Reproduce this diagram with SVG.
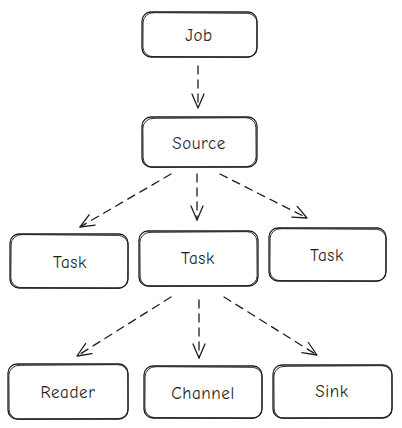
<svg xmlns="http://www.w3.org/2000/svg" width="402" height="428" viewBox="0 0 402 428">
<style>
.box{fill:none;stroke:#1e1e1e;stroke-width:1.3;stroke-linecap:round}
.box2{fill:none;stroke:#1e1e1e;stroke-width:0.9;stroke-linecap:round}
.lbl{font-family:"Comic Neue","Liberation Sans",sans-serif;font-size:17px;fill:#1e1e1e;text-anchor:middle;dominant-baseline:central;letter-spacing:0.6px}
.edge{fill:none;stroke:#1e1e1e;stroke-width:1.3;stroke-dasharray:8 6;stroke-linecap:round}
</style>
<defs>
<marker id="ah" viewBox="0 0 16 16" refX="15" refY="8" markerWidth="16" markerHeight="16" markerUnits="userSpaceOnUse" orient="auto">
<path d="M1 2 L15 8 L1 14" fill="none" stroke="#1e1e1e" stroke-width="1.3" stroke-linecap="round" stroke-linejoin="round"/>
</marker>
</defs>
<g id="connectors">
<path class="edge" d="M198 66 L198 108" marker-end="url(#ah)"/>
<path class="edge" d="M171 174 L80 227" marker-end="url(#ah)"/>
<path class="edge" d="M197 174 L197 220" marker-end="url(#ah)"/>
<path class="edge" d="M220 174 L307 218" marker-end="url(#ah)"/>
<path class="edge" d="M171 297 L77 356" marker-end="url(#ah)"/>
<path class="edge" d="M199 300 L199 358" marker-end="url(#ah)"/>
<path class="edge" d="M224 297 L317 355" marker-end="url(#ah)"/>
</g>
<g id="job">
<rect class="box" x="142" y="12" width="115" height="45" rx="9"/>
<rect class="box2" x="143" y="13" width="114" height="44" rx="10" transform="rotate(0.4 200 35)"/>
<text class="lbl" x="199" y="35">Job</text>
</g>
<g id="source">
<rect class="box" x="142" y="117" width="115" height="50" rx="9"/>
<rect class="box2" x="143" y="118" width="113" height="49" rx="10" transform="rotate(-0.4 200 142)"/>
<text class="lbl" x="199" y="143">Source</text>
</g>
<g id="task1">
<rect class="box" x="10" y="234" width="118" height="54" rx="9"/>
<rect class="box2" x="11" y="235" width="117" height="53" rx="10" transform="rotate(0.5 69 261)"/>
<text class="lbl" x="70" y="262">Task</text>
</g>
<g id="task2">
<rect class="box" x="139" y="231" width="119" height="55" rx="9"/>
<rect class="box2" x="140" y="232" width="117" height="54" rx="10" transform="rotate(-0.4 198 258)"/>
<text class="lbl" x="198" y="258">Task</text>
</g>
<g id="task3">
<rect class="box" x="269" y="228" width="117" height="53" rx="9"/>
<rect class="box2" x="270" y="229" width="116" height="52" rx="10" transform="rotate(0.4 327 255)"/>
<text class="lbl" x="327" y="255">Task</text>
</g>
<g id="reader">
<rect class="box" x="8" y="364" width="120" height="55" rx="9"/>
<rect class="box2" x="9" y="365" width="119" height="54" rx="10" transform="rotate(-0.4 68 391)"/>
<text class="lbl" x="68" y="392">Reader</text>
</g>
<g id="channel">
<rect class="box" x="144" y="366" width="118" height="52" rx="9"/>
<rect class="box2" x="145" y="367" width="117" height="51" rx="10" transform="rotate(0.4 203 392)"/>
<text class="lbl" x="203" y="393">Channel</text>
</g>
<g id="sink">
<rect class="box" x="273" y="365" width="119" height="53" rx="9"/>
<rect class="box2" x="274" y="366" width="118" height="52" rx="10" transform="rotate(-0.4 332 391)"/>
<text class="lbl" x="332" y="391">Sink</text>
</g>
</svg>
